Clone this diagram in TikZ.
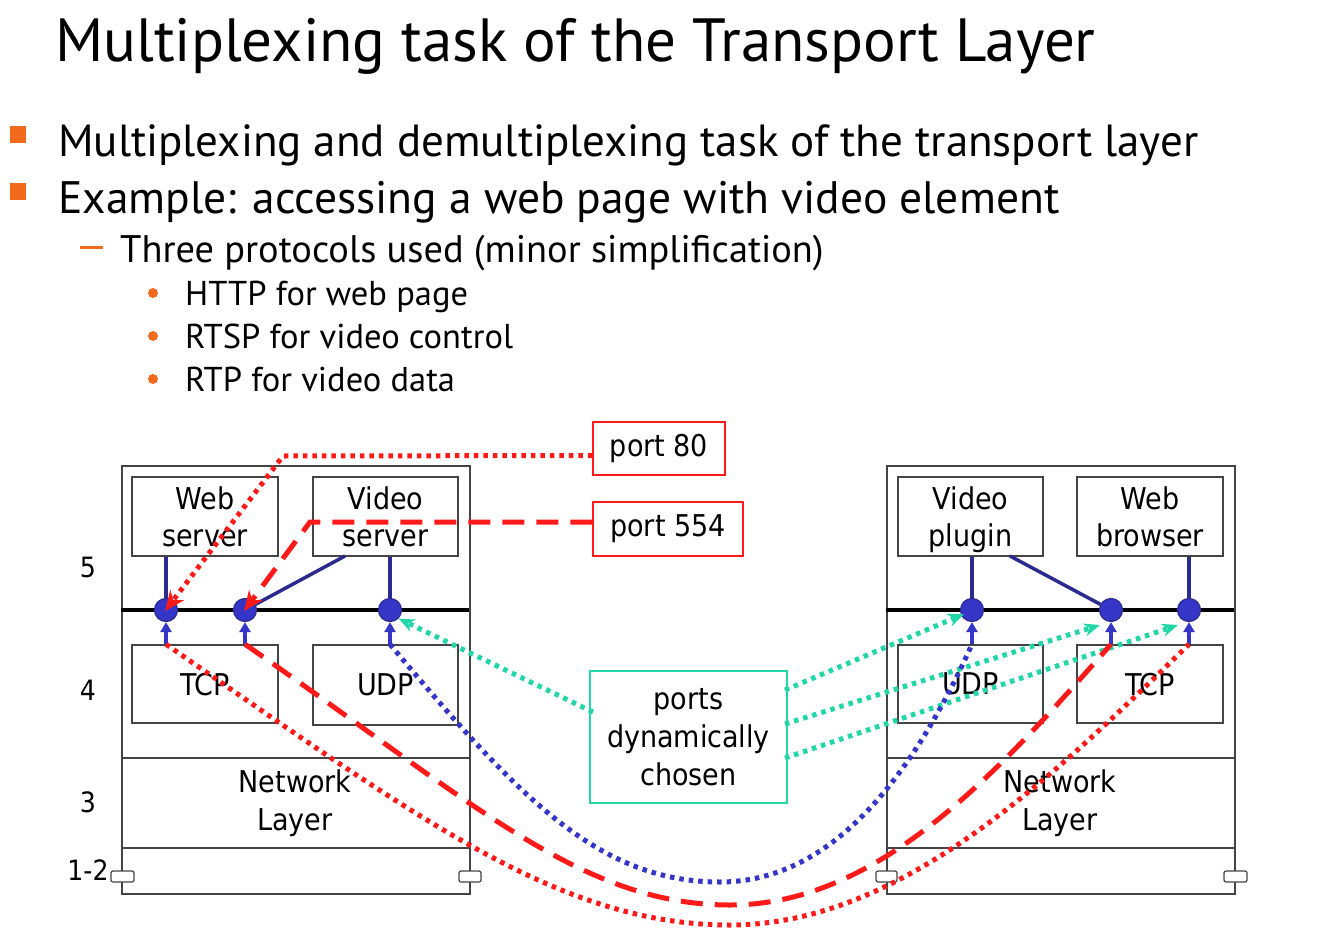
\documentclass[tikz,border=0pt]{standalone}
\usepackage{fontspec}
\setmainfont{PT Sans}
\newfontfamily\diagfont{DejaVu Sans Condensed}
\usetikzlibrary{arrows.meta}
\definecolor{accent}{HTML}{F26A1B}
\definecolor{portred}{HTML}{FF1A1A}
\definecolor{dyncol}{HTML}{22D6A8}
\definecolor{navy}{HTML}{2B2B8F}
\definecolor{portblue}{HTML}{3535C8}
\definecolor{framegray}{HTML}{444444}

\tikzset{
  slidetext/.style={anchor=base west, inner sep=0pt},
  stackbox/.style={draw=framegray, line width=1.5pt, anchor=north west, inner sep=0pt},
  appbox/.style={draw=framegray, line width=1.5pt, inner sep=0pt, align=center, text depth=0pt,
    font=\diagfont\fontsize{30}{37}\selectfont},
  layerlabel/.style={font=\diagfont\fontsize{28}{30}\selectfont, inner sep=0pt},
  portnode/.style={circle, fill=portblue, draw=navy, line width=1.2pt, minimum size=23pt, inner sep=0pt},
  portlabel/.style={draw=portred, line width=1.5pt, inner sep=0pt, font=\diagfont\fontsize{30}{34}\selectfont},
  bind/.style={draw=navy, line width=3.5pt},
  upfeed/.style={draw=portblue, line width=3.5pt, -{Triangle[length=10pt,width=11pt]}},
  redline/.style={draw=portred, line width=5pt, dash pattern=on 4.5pt off 5pt},
  reddash/.style={draw=portred, line width=5pt, dash pattern=on 22pt off 12pt},
  bluedot/.style={draw=portblue, line width=5pt, dash pattern=on 4.5pt off 5pt},
  dyndot/.style={draw=dyncol, line width=5pt, dash pattern=on 4.5pt off 5pt},
  redtip/.style={-{Stealth[length=20pt,width=17pt]}},
  dyntip/.style={-{Stealth[length=16pt,width=13pt]}},
  tab/.style={draw=framegray, fill=white, line width=1.2pt, rounded corners=2pt}
}

\begin{document}
\begin{tikzpicture}[x=1pt, y=-1pt]
\useasboundingbox (0,0) rectangle (1333,939);

% heading and bullet list
\node[slidetext, font=\fontsize{61}{61}\selectfont] (title) at (55,62) {Multiplexing task of the Transport Layer};
\fill[accent] (10,126) rectangle (26,143);
\node[slidetext, font=\fontsize{45}{45}\selectfont] (b1) at (58,157) {Multiplexing and demultiplexing task of the transport layer};
\fill[accent] (10,183) rectangle (26,200);
\node[slidetext, font=\fontsize{45.5}{45.5}\selectfont] (b2) at (58,213) {Example: accessing a web page with video element};
\fill[accent] (80,246) rectangle (103,249);
\node[slidetext, font=\fontsize{38.4}{38.4}\selectfont] (s1) at (120,262) {Three protocols used (minor simplification)};
\fill[accent] (153,293) circle (5);
\node[slidetext, font=\fontsize{34.5}{34.5}\selectfont] (i1) at (185,305) {HTTP for web page};
\fill[accent] (153,336) circle (5);
\node[slidetext, font=\fontsize{34.5}{34.5}\selectfont] (i2) at (185,348) {RTSP for video control};
\fill[accent] (153,379) circle (5);
\node[slidetext, font=\fontsize{34.5}{34.5}\selectfont] (i3) at (185,391) {RTP for video data};

% layer numbers
\node[layerlabel] (n5) at (88,567) {5};
\node[layerlabel] (n4) at (88,690) {4};
\node[layerlabel] (n3) at (88,802) {3};
\node[layerlabel] (n12) at (88,870) {1-2};

% left protocol stack (server)
\node[stackbox, minimum width=348pt, minimum height=428pt] (lstack) at (121,465) {};
\draw[framegray, line width=1.5pt] (121,758) -- (469,758) (121,848) -- (469,848);
\draw[line width=4.5pt] (121,610) -- (469,610);
\node[appbox, minimum width=146pt, minimum height=79pt] (wserver) at (205,516.5) {Web\\server};
\node[appbox, minimum width=145pt, minimum height=79pt] (vserver) at (385.5,516.5) {Video\\server};
\node[appbox, minimum width=146pt, minimum height=78pt] (ltcp) at (205,684) {TCP};
\node[appbox, minimum width=145pt, minimum height=80pt] (ludp) at (385.5,685) {UDP};
\node[align=center, inner sep=0pt, font=\diagfont\fontsize{30}{38}\selectfont] (lnet) at (295,803) {Network\\Layer};
\draw[tab] (111,871) rectangle (134,882);
\draw[tab] (459,871) rectangle (481,882);

% right protocol stack (client)
\node[stackbox, minimum width=348pt, minimum height=428pt] (rstack) at (886,465) {};
\draw[framegray, line width=1.5pt] (886,758) -- (1234,758) (886,848) -- (1234,848);
\draw[line width=4.5pt] (886,610) -- (1234,610);
\node[appbox, minimum width=145pt, minimum height=79pt] (vplugin) at (970.5,516.5) {Video\\plugin};
\node[appbox, minimum width=146pt, minimum height=79pt] (wbrowser) at (1150,516.5) {Web\\browser};
\node[appbox, minimum width=145pt, minimum height=78pt] (rudp) at (970.5,684) {UDP};
\node[appbox, minimum width=146pt, minimum height=78pt] (rtcp) at (1150,684) {TCP};
\node[align=center, inner sep=0pt, font=\diagfont\fontsize{30}{38}\selectfont] (rnet) at (1060,803) {Network\\Layer};
\draw[tab] (876,871) rectangle (897,882);
\draw[tab] (1224,871) rectangle (1247,882);

% ports on the transport/application boundary
\node[portnode] (p1) at (166,610) {};
\node[portnode] (p2) at (245,610) {};
\node[portnode] (p3) at (390,610) {};
\node[portnode] (q1) at (972,610) {};
\node[portnode] (q2) at (1111,610) {};
\node[portnode] (q3) at (1189,610) {};

% applications bound to ports
\draw[bind] (wserver.south -| p1) -- (p1);
\draw[bind] (345,556) -- (p2);
\draw[bind] (vserver.south -| p3) -- (p3);
\draw[bind] (vplugin.south -| q1) -- (q1);
\draw[bind] (1010,556) -- (q2);
\draw[bind] (wbrowser.south -| q3) -- (q3);

% transport segments handed up to the ports
\coordinate (a1) at (ltcp.north -| p1);
\coordinate (a2) at (ltcp.north -| p2);
\coordinate (a3) at (ludp.north -| p3);
\coordinate (c1) at (rudp.north -| q1);
\coordinate (c2) at (rtcp.north -| q2);
\coordinate (c3) at (rtcp.north -| q3);
\foreach \s/\t in {a1/p1,a2/p2,a3/p3,c1/q1,c2/q2,c3/q3}
  \draw[upfeed] (\s) -- (\t.south);

% well-known ports
\node[portlabel, minimum width=132pt, minimum height=53pt] (port80) at (659,448.5) {port 80};
\node[portlabel, minimum width=150pt, minimum height=54pt] (port554) at (668,529) {port 554};
\coordinate (k80) at (283,456);
\coordinate (k554) at (310,522);
\draw[redline, redtip] ([yshift=-7pt]port80.west) -- (k80) -- ([shift={(-1pt,-1pt)}]p1.center);
\draw[reddash, redtip] ([yshift=7pt]port554.west) -- (k554) -- ([shift={(-1pt,-1pt)}]p2.center);

% dynamically chosen ports
\node[draw=dyncol, line width=2.5pt, inner sep=0pt, minimum width=197pt, minimum height=132pt,
  align=center, font=\diagfont\fontsize{30}{38}\selectfont] (dyn) at (688.5,737) {ports\\dynamically\\chosen};
\draw[dyndot, dyntip] (593,712) -- (p3.south east);
\draw[dyndot, dyntip] (785,690) -- (964,614);
\draw[dyndot, dyntip] (785,724) -- (1100,625);
\draw[dyndot, dyntip] (785,758) -- (1178,625);

% connections across the network
\draw[redline] (a1) .. controls (420,820) and (560,925) .. (730,925)
                    .. controls (900,925) and (1050,780) .. (c3);
\draw[reddash] (a2) .. controls (470,800) and (580,905) .. (730,905)
                    .. controls (880,905) and (1000,770) .. (c2);
\draw[bluedot] (a3) .. controls (520,800) and (600,882) .. (720,882)
                    .. controls (840,882) and (920,760) .. (c1);
\end{tikzpicture}
\end{document}
